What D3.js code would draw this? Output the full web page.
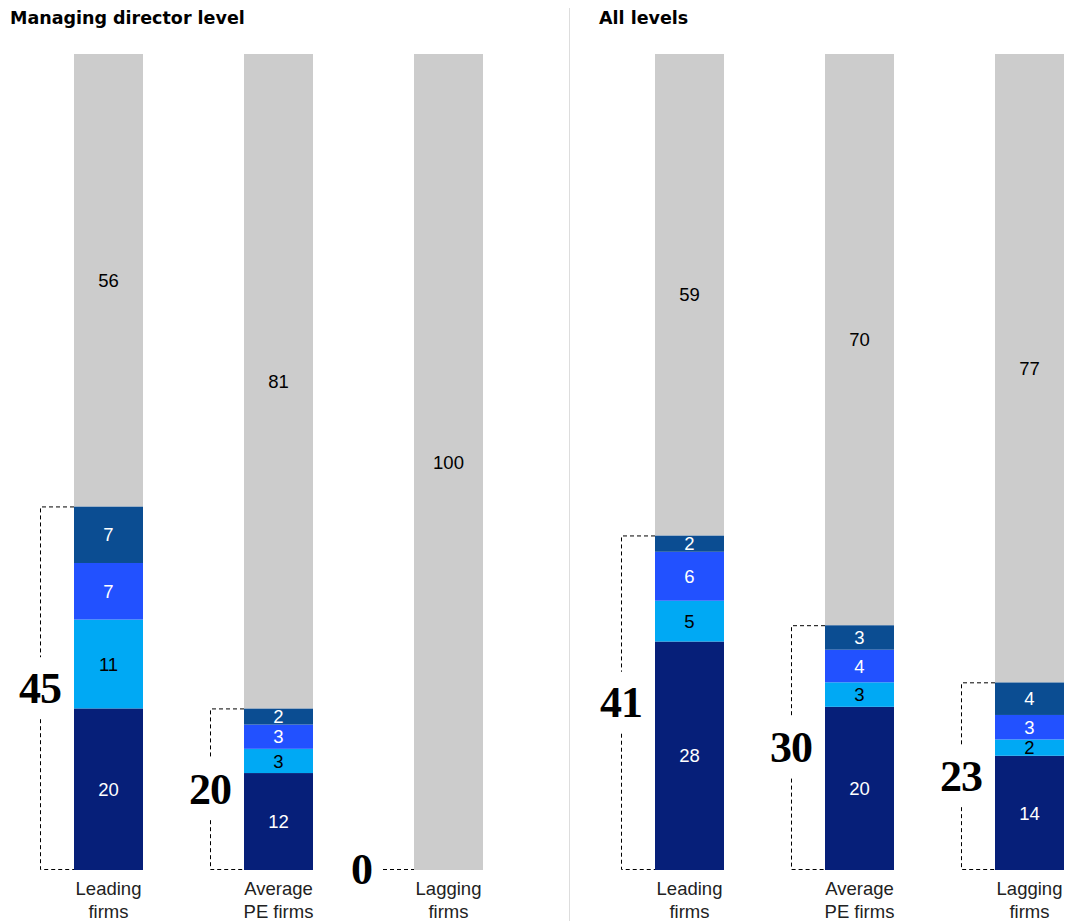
<!DOCTYPE html>
<html>
<head>
<meta charset="utf-8">
<script src="https://cdn.jsdelivr.net/npm/d3@7"></script>
<style>
  body { margin: 0; background: #fff; }
</style>
</head>
<body>
<div id="chart"></div>
<script>
// panels and categories
var panels = ['Managing director level', 'All levels'];
var categories = [['Leading', 'firms'], ['Average', 'PE firms'], ['Lagging', 'firms']];
var seriesKeys = ['s1', 's2', 's3', 's4', 'rest'];

// values per panel, bottom to top
var mdS1 = [20, 12, 0];
var mdS2 = [11, 3, 0];
var mdS3 = [7, 3, 0];
var mdS4 = [7, 2, 0];
var mdRest = [56, 81, 100];
var mdTotals = [45, 20, 0];

var allS1 = [28, 20, 14];
var allS2 = [5, 3, 2];
var allS3 = [6, 4, 3];
var allS4 = [2, 3, 4];
var allRest = [59, 70, 77];
var allTotals = [41, 30, 23];

var colors = { s1: '#061f79', s2: '#00a9f4', s3: '#2251ff', s4: '#0b4d92', rest: '#cccccc' };
var textColors = { s1: '#fff', s2: '#000', s3: '#fff', s4: '#fff', rest: '#000' };

var sans = '"Liberation Sans", Arial, sans-serif';
var serif = '"Liberation Serif", "Times New Roman", serif';

var svgWidth = 1076, svgHeight = 921;
var barTop = 54, barBottom = 870;
var panelOffset = 581;

var svg = d3.select('#chart').append('svg')
    .attr('width', svgWidth)
    .attr('height', svgHeight)
    .style('font-family', sans);

function rows(s1, s2, s3, s4, rest) {
    return categories.map(function(c, i) {
        return { cat: i, s1: s1[i], s2: s2[i], s3: s3[i], s4: s4[i], rest: rest[i] };
    });
}

var panelData = [
    { title: panels[0], rows: rows(mdS1, mdS2, mdS3, mdS4, mdRest), totals: mdTotals },
    { title: panels[1], rows: rows(allS1, allS2, allS3, allS4, allRest), totals: allTotals }
];

// each stack is scaled to its own total
var yScale = d3.scaleLinear().domain([0, 1]).range([barBottom, barTop]);

// divider
svg.append('line')
    .attr('x1', 569.5).attr('x2', 569.5)
    .attr('y1', 8).attr('y2', svgHeight)
    .attr('stroke', '#dddddd').attr('stroke-width', 1);

panelData.forEach(function(p, pi) {
    var g = svg.append('g').attr('transform', `translate(${pi * panelOffset},0)`);

    g.append('text')
        .attr('x', pi == 0 ? 10 : 18)
        .attr('y', 24)
        .style('font-family', '"DejaVu Sans", sans-serif')
        .style('font-size', '17.5px')
        .style('font-weight', 'bold')
        .attr('fill', '#000')
        .text(p.title);

    var xScale = d3.scaleBand()
        .domain(d3.range(categories.length))
        .range([74, 483])
        .paddingInner(101 / 170)
        .paddingOuter(0);

    var stacked = d3.stack().keys(seriesKeys).offset(d3.stackOffsetExpand)(p.rows);

    var layers = g.selectAll('.layer').data(stacked).enter().append('g').attr('class', 'layer');

    layers.selectAll('rect')
        .data(d => d.map(v => ({ key: d.key, v: v })))
        .enter()
        .append('rect')
        .attr('x', d => xScale(d.v.data.cat))
        .attr('width', xScale.bandwidth())
        .attr('y', d => yScale(d.v[1]))
        .attr('height', d => yScale(d.v[0]) - yScale(d.v[1]))
        .attr('fill', d => colors[d.key]);

    layers.selectAll('text')
        .data(d => d.map(v => ({ key: d.key, v: v })).filter(e => e.v.data[e.key] > 0))
        .enter()
        .append('text')
        .attr('x', d => xScale(d.v.data.cat) + xScale.bandwidth() / 2)
        .attr('y', d => (yScale(d.v[0]) + yScale(d.v[1])) / 2)
        .attr('dy', '0.36em')
        .attr('text-anchor', 'middle')
        .style('font-size', '18.5px')
        .attr('fill', d => textColors[d.key])
        .text(d => d.v.data[d.key]);

    // category labels
    categories.forEach(function(c, i) {
        var cx = xScale(i) + xScale.bandwidth() / 2;
        var t = g.append('text')
            .attr('x', cx)
            .attr('y', 895)
            .attr('text-anchor', 'middle')
            .style('font-size', '18.5px')
            .attr('fill', '#222');
        t.append('tspan').attr('x', cx).text(c[0]);
        t.append('tspan').attr('x', cx).attr('dy', 23).text(c[1]);
    });

    // brackets with totals
    p.rows.forEach(function(r, i) {
        var top = stacked[3][i][1];
        var bx = xScale(i);
        var lx = bx - 34;
        var total = p.totals[i];
        var dash = '4,3';
        if (total > 0) {
            var yTop = yScale(top), yBot = yScale(0);
            var mid = (yTop + yBot) / 2;
            var path = `M${bx},${yTop + 0.5}H${lx + 0.5}V${mid - 31}M${lx + 0.5},${mid + 31}V${yBot - 0.5}H${bx}`;
            g.append('path')
                .attr('d', path)
                .attr('fill', 'none')
                .attr('stroke', '#000')
                .attr('stroke-width', 1)
                .attr('stroke-dasharray', dash);
            g.append('text')
                .attr('x', lx)
                .attr('y', mid)
                .attr('dy', '0.33em')
                .attr('text-anchor', 'middle')
                .style('font-family', serif)
                .style('font-weight', 'bold')
                .style('font-size', '44px')
                .style('letter-spacing', '-1px')
                .attr('fill', '#000')
                .text(total);
        } else {
            var y0 = yScale(0) - 0.5;
            g.append('path')
                .attr('d', `M${bx - 31},${y0}H${bx}`)
                .attr('stroke', '#000')
                .attr('stroke-dasharray', dash);
            g.append('text')
                .attr('x', bx - 52)
                .attr('y', y0)
                .attr('dy', '0.33em')
                .attr('text-anchor', 'middle')
                .style('font-family', serif)
                .style('font-weight', 'bold')
                .style('font-size', '44px')
                .attr('fill', '#000')
                .text(total);
        }
    });
});
</script>
</body>
</html>
